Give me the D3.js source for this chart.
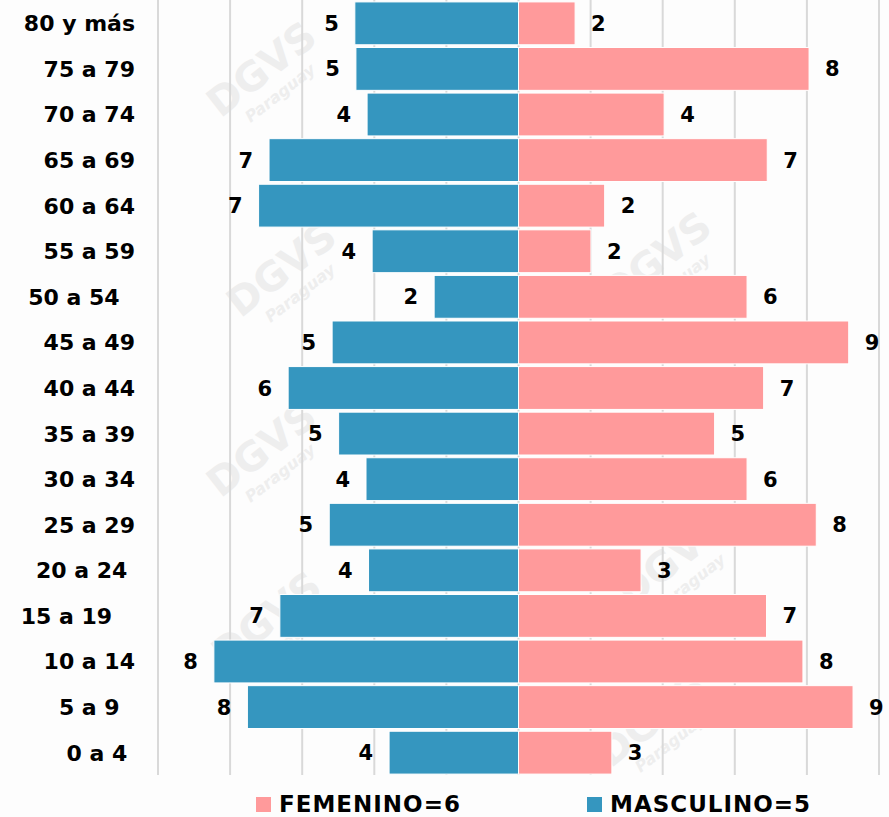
<!DOCTYPE html>
<html>
<head>
<meta charset="utf-8">
<script src="https://cdn.jsdelivr.net/npm/d3@7"></script>
<style>
  body { margin: 0; background: #fdfdfd; }
  text { font-family: "DejaVu Sans", sans-serif; font-weight: bold; }
</style>
</head>
<body>
<div id="container"></div>
<script>
// age groups, top to bottom (trailing spaces kept as in the original labels)
var categories = ["80 y más", "75 a 79", "70 a 74", "65 a 69", "60 a 64", "55 a 59",
  "50 a 54  ", "45 a 49", "40 a 44", "35 a 39", "30 a 34", "25 a 29",
  "20 a 24 ", "15 a 19   ", "10 a 14", "5 a 9  ", "0 a 4 "];

// percentages per group
var masculino = [4.54, 4.51, 4.20, 6.92, 7.21, 4.06, 2.34, 5.17, 6.39, 4.99, 4.23, 5.25, 4.16, 6.62, 8.45, 7.52, 3.59];
var femenino = [1.57, 8.06, 4.04, 6.90, 2.39, 2.01, 6.34, 9.16, 6.80, 5.44, 6.34, 8.26, 3.40, 6.88, 7.89, 9.28, 2.59];

var gridTicks = [-10, -8, -6, -4, -2, 0, 2, 4, 6, 8, 10];
var legendLabels = ["FEMENINO=6", "MASCULINO=5"];

var width = 889, height = 817;
var colorM = "#3596bf", colorF = "#ff9a9b";

var svg = d3.select("#container")
  .append("svg")
  .attr("width", width)
  .attr("height", height);

var x = d3.scaleLinear().domain([-10, 10]).range([158, 879]);
var y = d3.scaleBand().domain(categories).range([1, 775]).paddingInner(0.06).paddingOuter(0.02);

// faint watermark behind the chart
var marks = [[270, 80], [290, 280], [270, 460], [275, 630], [665, 270], [680, 570], [660, 730]];
var wm = svg.append("g").attr("fill", "#eeeeee");
marks.forEach(function (m) {
  var g = wm.append("g").attr("transform", "translate(" + m[0] + "," + m[1] + ") rotate(-38)");
  g.append("text").attr("text-anchor", "middle").attr("font-size", 40).text("DGVS");
  g.append("text").attr("text-anchor", "middle").attr("y", 22).attr("font-size", 16)
    .attr("font-style", "italic").attr("font-weight", "normal").text("Paraguay");
});

// vertical gridlines
svg.append("g")
  .selectAll("line")
  .data(gridTicks)
  .enter()
  .append("line")
  .attr("x1", function (d) { return x(d); })
  .attr("x2", function (d) { return x(d); })
  .attr("y1", 0)
  .attr("y2", 775)
  .attr("stroke", "#d9d9d9")
  .attr("stroke-width", 2);

// masculino bars (left)
svg.append("g")
  .selectAll("rect")
  .data(masculino)
  .enter()
  .append("rect")
  .attr("x", function (d) { return x(-d); })
  .attr("y", function (d, i) { return y(categories[i]); })
  .attr("width", function (d) { return x(0) - x(-d); })
  .attr("height", y.bandwidth())
  .attr("fill", colorM)
  .attr("stroke", "#fff")
  .attr("stroke-width", 1);

// femenino bars (right)
svg.append("g")
  .selectAll("rect")
  .data(femenino)
  .enter()
  .append("rect")
  .attr("x", x(0))
  .attr("y", function (d, i) { return y(categories[i]); })
  .attr("width", function (d) { return x(d) - x(0); })
  .attr("height", y.bandwidth())
  .attr("fill", colorF)
  .attr("stroke", "#fff")
  .attr("stroke-width", 1);

// value labels
svg.append("g")
  .selectAll("text")
  .data(masculino)
  .enter()
  .append("text")
  .attr("x", function (d) { return x(-d) - 16; })
  .attr("y", function (d, i) { return y(categories[i]) + y.bandwidth() / 2; })
  .attr("dy", "0.36em")
  .attr("text-anchor", "end")
  .attr("font-size", 21)
  .text(function (d) { return Math.round(d); });

svg.append("g")
  .selectAll("text")
  .data(femenino)
  .enter()
  .append("text")
  .attr("x", function (d) { return x(d) + 16; })
  .attr("y", function (d, i) { return y(categories[i]) + y.bandwidth() / 2; })
  .attr("dy", "0.36em")
  .attr("font-size", 21)
  .text(function (d) { return Math.round(d); });

// category labels
svg.append("g")
  .selectAll("text")
  .data(categories)
  .enter()
  .append("text")
  .attr("x", 135)
  .attr("y", function (d) { return y(d) + y.bandwidth() / 2; })
  .attr("dy", "0.36em")
  .attr("text-anchor", "end")
  .attr("font-size", 22)
  .style("white-space", "pre")
  .text(function (d) { return d; });

// legend
var legend = svg.append("g");
var legendX = [256, 587];
var legendColors = [colorF, colorM];
legendLabels.forEach(function (label, i) {
  legend.append("rect")
    .attr("x", legendX[i])
    .attr("y", 797)
    .attr("width", 15)
    .attr("height", 15)
    .attr("fill", legendColors[i]);
  legend.append("text")
    .attr("x", legendX[i] + 23)
    .attr("y", 812)
    .attr("font-size", 23)
    .attr("letter-spacing", 1)
    .text(label);
});
</script>
</body>
</html>
